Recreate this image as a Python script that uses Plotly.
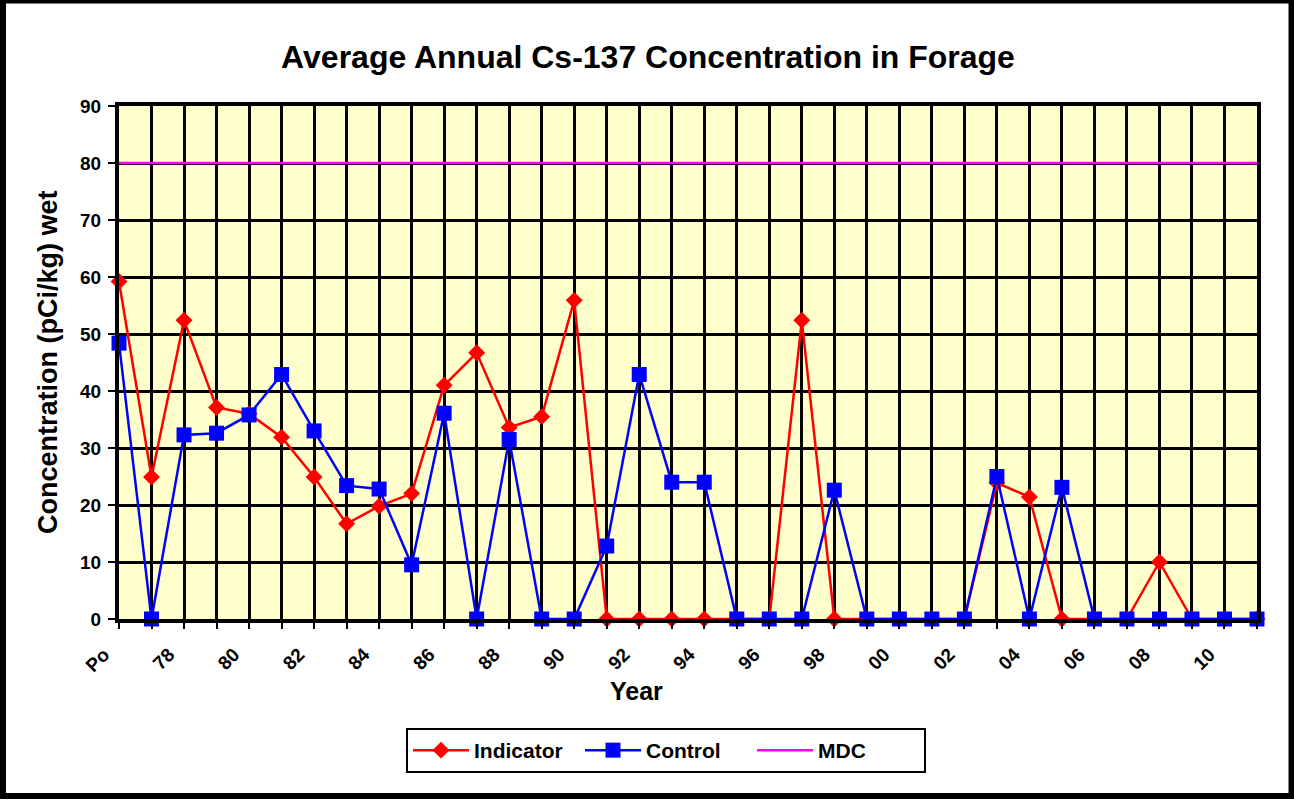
import plotly.graph_objects as go

# ---- data ----
categories = ["Po"] + [str(y) for y in range(77, 100)] + ["%02d" % y for y in range(0, 12)]
tick_labels = [c if i % 2 == 0 else "" for i, c in enumerate(categories)]

indicator = [59.2, 24.9, 52.4, 37.1, 36.0, 31.9, 24.9, 16.7, 19.8, 22.0,
             41.0, 46.7, 33.6, 35.5, 55.9, 0, 0, 0, 0, 0,
             0, 52.4, 0, 0, 0, 0, 0, 23.9, 21.4, 0,
             0, 0, 10.0, 0, 0, 0]
control = [48.4, 0, 32.3, 32.6, 35.8, 42.9, 33.0, 23.4, 22.8, 9.5,
           36.1, 0, 31.5, 0, 0, 12.8, 42.9, 24.0, 24.0, 0,
           0, 0, 22.6, 0, 0, 0, 0, 25.0, 0, 23.1,
           0, 0, 0, 0, 0, 0]
mdc = [80] * len(categories)

FONT = "Liberation Sans, Arial, sans-serif"
W, H = 1294, 801
PL, PR, PT, PB = 119, 1257, 106, 619  # plot area pixels


def px(x):
    return (x - PL) / (PR - PL)


def py(y):
    return (PB - y) / (PB - PT)


xs = list(range(len(categories)))

fig = go.Figure()
fig.add_trace(go.Scatter(
    x=xs, y=indicator, name="Indicator", mode="lines+markers",
    line=dict(color="#FF0000", width=2.5),
    marker=dict(symbol="diamond", size=13, color="#FF0000"),
    cliponaxis=False))
fig.add_trace(go.Scatter(
    x=xs, y=control, name="Control", mode="lines+markers",
    line=dict(color="#0000FF", width=2.5),
    marker=dict(symbol="square", size=15, color="#0000FF"),
    cliponaxis=False))
fig.add_trace(go.Scatter(
    x=xs, y=mdc, name="MDC", mode="lines",
    line=dict(color="#FF00FF", width=2.5)))

fig.update_layout(
    width=W, height=H,
    margin=dict(l=PL, r=W - PR, t=PT, b=H - PB, autoexpand=False),
    paper_bgcolor="white",
    plot_bgcolor="#FFFFCC",
    font=dict(family=FONT, color="black"),
    title=dict(text="Average Annual Cs-137 Concentration in Forage",
               font=dict(size=32, weight="bold", family=FONT),
               x=648 / W, xanchor="center", xref="container",
               y=1 - 57 / H, yanchor="middle", yref="container"),
    showlegend=True,
    legend=dict(orientation="h", xref="container", yref="container",
                x=406 / W, xanchor="left", y=1 - 728 / H, yanchor="top",
                bordercolor="black", borderwidth=2, bgcolor="white",
                font=dict(size=21, weight="bold", family=FONT),
                itemwidth=56, entrywidth=101, entrywidthmode="pixels"),
)

fig.update_xaxes(
    range=[0, 35], tickmode="array", tickvals=xs, ticktext=tick_labels,
    showgrid=True, gridcolor="black", gridwidth=2.5,
    showline=True, linecolor="black", linewidth=4, mirror=True,
    ticks="outside", ticklen=6, tickwidth=2, tickcolor="black",
    tickangle=-45, tickfont=dict(size=19, weight="bold", family=FONT),
    ticklabelstandoff=7, ticklabelshift=-15,
    zeroline=False, automargin=False)
fig.update_yaxes(
    range=[0, 90], tickmode="linear", tick0=0, dtick=10,
    showgrid=True, gridcolor="black", gridwidth=2.5,
    showline=True, linecolor="black", linewidth=4, mirror=True,
    ticks="outside", ticklen=7, tickwidth=2, tickcolor="black",
    tickfont=dict(size=19, weight="bold", family=FONT),
    ticklabelstandoff=3,
    zeroline=False, automargin=False)

# axis titles
fig.add_annotation(text="Year", xref="paper", yref="paper",
                   x=px(636), y=py(691), showarrow=False,
                   xanchor="center", yanchor="middle",
                   font=dict(size=25, weight="bold", family=FONT))
fig.add_annotation(text="Concentration (pCi/kg) wet", xref="paper", yref="paper",
                   x=px(48), y=py(362), showarrow=False, textangle=-90,
                   xanchor="center", yanchor="middle",
                   font=dict(size=27, weight="bold", family=FONT))

# outer chart border
fig.add_shape(type="rect", xref="paper", yref="paper",
              x0=px(3), x1=px(1291.5), y0=py(0.5), y1=py(796),
              line=dict(color="black", width=6), fillcolor="rgba(0,0,0,0)",
              layer="above")

fig.write_html("out.html", config={"displayModeBar": False},
               post_script="document.body.style.margin='0';document.body.style.overflow='hidden';")
